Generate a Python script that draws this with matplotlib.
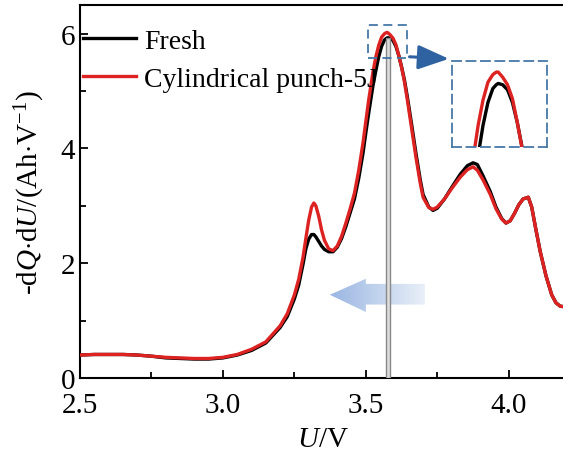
import numpy as np
import matplotlib
matplotlib.use('Agg')
import matplotlib.pyplot as plt
from matplotlib.patches import Rectangle, Polygon

plt.rcParams['font.family'] = ['Liberation Serif', 'DejaVu Serif']
plt.rcParams['mathtext.fontset'] = 'custom'
plt.rcParams['mathtext.rm'] = 'Liberation Serif'
plt.rcParams['mathtext.it'] = 'Liberation Serif:italic'

# data
U = [2.50, 2.55, 2.60, 2.65, 2.70, 2.75, 2.80, 2.85, 2.90, 2.95, 3.00, 3.05, 3.10,
     3.15, 3.20, 3.225, 3.25, 3.265, 3.28, 3.29, 3.30, 3.31, 3.318, 3.325, 3.335,
     3.345, 3.355, 3.37, 3.385, 3.40, 3.415, 3.43, 3.445, 3.46, 3.475, 3.49, 3.50,
     3.51, 3.525, 3.535, 3.545, 3.555, 3.565, 3.572, 3.576, 3.585, 3.595, 3.605,
     3.615, 3.625, 3.635, 3.645, 3.66, 3.675, 3.69, 3.70, 3.72, 3.735, 3.75, 3.775,
     3.80, 3.83, 3.855, 3.875, 3.89, 3.91, 3.935, 3.955, 3.975, 3.99, 4.005, 4.02,
     4.035, 4.05, 4.068, 4.08, 4.095, 4.11, 4.13, 4.15, 4.165, 4.18, 4.20]

punch = [0.40, 0.41, 0.41, 0.41, 0.40, 0.38, 0.36, 0.35, 0.34, 0.34, 0.36, 0.41, 0.50,
         0.63, 0.91, 1.12, 1.45, 1.72, 2.10, 2.43, 2.75, 2.98, 3.05, 3.00, 2.82,
         2.58, 2.40, 2.25, 2.22, 2.30, 2.47, 2.70, 2.95, 3.22, 3.62, 4.10, 4.48,
         4.85, 5.34, 5.60, 5.80, 5.94, 6.00, 6.02, 6.02, 5.98, 5.92, 5.81,
         5.62, 5.41, 5.16, 4.85, 4.35, 3.85, 3.40, 3.15, 2.97, 2.94, 2.98, 3.12,
         3.30, 3.50, 3.63, 3.68, 3.62, 3.45, 3.20, 2.95, 2.77, 2.70, 2.74, 2.87,
         3.02, 3.12, 3.15, 2.98, 2.58, 2.20, 1.78, 1.45, 1.31, 1.25, 1.24]

fresh = [0.40, 0.41, 0.41, 0.41, 0.40, 0.38, 0.35, 0.34, 0.33, 0.33, 0.35, 0.40, 0.48,
         0.61, 0.88, 1.07, 1.38, 1.62, 1.98, 2.25, 2.42, 2.50, 2.50, 2.46, 2.38,
         2.30, 2.24, 2.20, 2.20, 2.28, 2.43, 2.64, 2.88, 3.12, 3.48, 3.92, 4.28,
         4.62, 5.10, 5.36, 5.60, 5.78, 5.89, 5.92, 5.93, 5.92, 5.88, 5.78,
         5.62, 5.42, 5.19, 4.90, 4.42, 3.92, 3.46, 3.20, 2.98, 2.92, 2.96, 3.12,
         3.32, 3.55, 3.70, 3.75, 3.72, 3.52, 3.25, 2.98, 2.78, 2.70, 2.74, 2.87,
         3.02, 3.12, 3.15, 2.98, 2.58, 2.20, 1.78, 1.45, 1.31, 1.25, 1.24]

red = '#dd2222'
boxc = '#4677a8'

fig = plt.figure(figsize=(5.63, 4.56), dpi=100)
ax = fig.add_axes([80/563, 77/456, 486/563, 373/456])

ax.plot(U, fresh, color='black', lw=2.4, label='Fresh', zorder=3)
ax.plot(U, punch, color=red, lw=2.4, label='Cylindrical punch-5J', zorder=4)

# grey marker line at the main peak
ax.add_patch(Rectangle((3.571, 0), 0.012, 5.93, facecolor='#dddddd',
                       edgecolor='#888888', lw=1.0, zorder=5))

# small dashed box + arrow
ax.add_patch(Rectangle((3.507, 5.58), 0.136, 0.58, fill=False, edgecolor=boxc,
                       lw=1.3, ls=(0, (5, 3)), zorder=6))
ax.annotate('', xy=(3.80, 5.56), xytext=(3.643, 5.60),
            arrowprops=dict(arrowstyle='-|>,head_length=1.9,head_width=0.75',
                            color='#2f62a0', lw=2.2), zorder=6)

# light blue arrow pointing left
arr = Polygon([(3.374, 1.45), (3.50, 1.73), (3.50, 1.64), (3.706, 1.64),
               (3.706, 1.28), (3.50, 1.28), (3.50, 1.15)], closed=True,
              facecolor='none', edgecolor='none')
ax.add_patch(arr)
grad = np.linspace(0, 1, 100).reshape(1, -1)
im = ax.imshow(grad, extent=(3.374, 3.706, 1.15, 1.75), aspect='auto',
               cmap=matplotlib.colors.LinearSegmentedColormap.from_list(
                   'b', ['#9ab6e2', '#e8eff8']), zorder=2)
im.set_clip_path(arr)

ax.set_xlim(2.5, 4.2)
ax.set_ylim(0, 6.5)
ax.set_xticks([2.5, 3.0, 3.5, 4.0])
ax.set_xticks([2.75, 3.25, 3.75], minor=True)
ax.set_yticks([0, 2, 4, 6])
ax.set_yticks([1, 3, 5], minor=True)
ax.xaxis.set_major_formatter(matplotlib.ticker.FormatStrFormatter('%.1f'))
ax.tick_params(which='both', direction='in', width=1.3, labelsize=21)
ax.tick_params(which='major', length=6)
ax.tick_params(which='minor', length=4)
ax.tick_params(axis='x', pad=10)
for s in ax.spines.values():
    s.set_linewidth(1.5)

ax.set_xlabel(r'$U$/V', fontsize=21, labelpad=6)
ax.set_ylabel(r'-d$Q$$\cdot$d$U$/(Ah$\cdot$V$^{-1}$)', fontsize=21, labelpad=10)

ax.legend(loc='upper left', bbox_to_anchor=(0.0, 0.945), frameon=False,
          fontsize=20, handlelength=1.9, handletextpad=0.3, labelspacing=0.45,
          borderaxespad=0.0, borderpad=0.1)

# inset showing the peak
ins = fig.add_axes([451.7/563, (456-147.7)/456, 95/563, 86/456])
ins.plot(U, fresh, color='black', lw=2.4)
ins.plot(U, punch, color=red, lw=2.4)
ins.set_xlim(3.481, 3.675)
ins.set_ylim(5.43, 6.11)
ins.set_xticks([])
ins.set_yticks([])
ins.patch.set_alpha(0)
for s in ins.spines.values():
    s.set_linestyle((0, (5, 3)))
    s.set_edgecolor(boxc)
    s.set_linewidth(1.3)

fig.savefig('out.png', dpi=100)
